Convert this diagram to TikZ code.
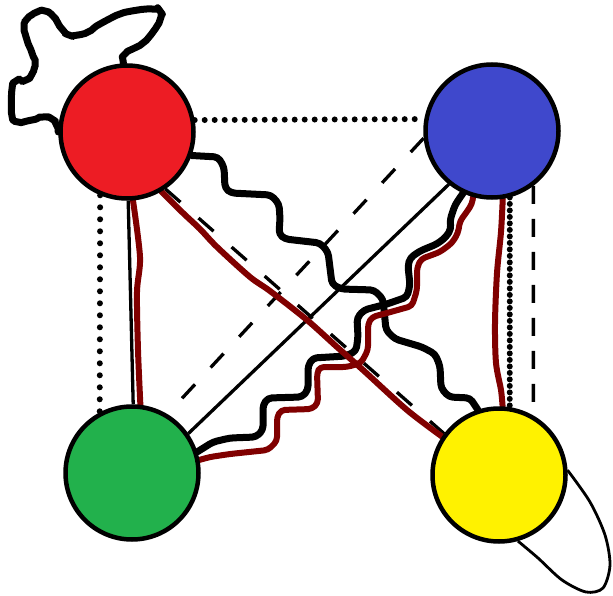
\documentclass[tikz,border=0pt]{standalone}
\usetikzlibrary{backgrounds}
\definecolor{cred}{HTML}{ED1C24}
\definecolor{cblue}{HTML}{3F48CC}
\definecolor{cgreen}{HTML}{22B14C}
\definecolor{cyellow}{HTML}{FFF200}
\definecolor{maroonc}{HTML}{800000}
\begin{document}
\begin{tikzpicture}[x=1pt,y=-1pt,
  vtx/.style={circle,draw=black,line width=4.5pt,minimum size=133pt,inner sep=0pt},
  wig/.style={draw=black,line width=7pt,rounded corners=4pt,line join=round,line cap=round},
  marw/.style={draw=maroonc,line width=6pt,rounded corners=4pt,line join=round,line cap=round},
  mars/.style={draw=maroonc,line width=6pt,line join=round,line cap=round},
  thinline/.style={draw=black,line width=3.3pt},
  dashline/.style={draw=black,line width=3.3pt,dash pattern=on #1},
  dotline/.style={draw=black,line width=6pt,line cap=round,dash pattern=on 0pt off #1},
  loopline/.style={draw=black,line width=2.8pt},
  ]
\useasboundingbox (0,0) rectangle (613,596);
\node[vtx,fill=cred] (R) at (127,132) {};
\node[vtx,fill=cblue] (B) at (492,131) {};
\node[vtx,fill=cgreen] (G) at (132,473) {};
\node[vtx,fill=cyellow] (Y) at (499,475) {};
\begin{pgfonlayer}{background}
% red self loop
\draw[wig] plot[smooth,tension=0.45] coordinates {(R.93) (125,54) (143,43) (153,32) (160,20) (160,11) (152,9) (138,10) (120,14) (100,24) (88,32) (78,35) (69,35) (62,29) (53,16) (45,11) (37,12) (27,19) (24,27) (27,40) (32,53) (35,63) (32,74) (26,80) (16,81) (12,89) (12,116) (18,122) (32,120) (43,117) (52,119) (57,126) (R.180)};
% yellow self loop
\draw[loopline] plot[smooth] coordinates {(Y.4) (590,502) (605,535) (610,565) (603,588) (586,592) (562,580) (538,558) (Y.-74)};
% dotted
\draw[dotline=10pt] (R.10) -- (B.170);
\draw[dotline=12pt] (R.247) -- (G.118);
\draw[dotline=6.5pt] (B.-75) -- (Y.81);
% dashed
\draw[dashline={18pt off 15pt}] (B.-53) -- (Y.60);
\draw[dashline={19pt off 23pt}] (B.186) -- (G.59.5);
\draw[dashline={20pt off 24pt}] (R.-56) -- (Y.143);
% solid thin
\draw[thinline] (R.-89) -- (G.89);
\draw[thinline] (B.231) -- (G.35);
% black wiggles
\draw[wig] (R.-20) -- (218,157) -- (224,167) -- (225,188) -- (231,193) -- (271,195) -- (279,204) -- (280,218) -- (279,234) -- (285,239) -- (320,243) -- (328,252) -- (332,284) -- (341,289) -- (374,290) -- (383,299) -- (386,330) -- (395,339) -- (422,347) -- (435,354) -- (440,366) -- (441,388) -- (449,397) -- (470,398) -- (Y.108);
\draw[wig] (B.245) -- (455,205) -- (450,220) -- (451,229) -- (446,237) -- (437,244) -- (420,251) -- (410,258) -- (408,266) -- (410,285) -- (407,297) -- (387,304) -- (364,310) -- (357,318) -- (358,337) -- (356,351) -- (346,356) -- (313,358) -- (308,366) -- (308,390) -- (302,397) -- (268,398) -- (263,405) -- (263,430) -- (256,437) -- (230,438) -- (213,442) -- (G.18);
% maroon lines
\draw[mars] plot[smooth] coordinates {(R.-85) (140,257) (137,292) (138,350) (G.83)};
\draw[mars] plot[smooth] coordinates {(B.-81) (501,232) (497,273) (495,323) (496,363) (501,390) (Y.87)};
\draw[mars] plot[smooth] coordinates {(R.-60) (183,213) (200,229) (217,247) (250,277) (270,291) (307,320) (337,347) (363,370) (407,410) (Y.146)};
\draw[marw] (B.254) -- (472,204) -- (466,213) -- (460,221) -- (458,233) -- (452,243) -- (440,252) -- (421,259) -- (417,268) -- (417,290) -- (412,306) -- (387,313) -- (372,317) -- (368,324) -- (368,350) -- (361,363) -- (347,367) -- (320,367) -- (317,373) -- (318,403) -- (312,409) -- (281,410) -- (277,417) -- (277,441) -- (268,450) -- (230,454) -- (210,457) -- (G.11);
\end{pgfonlayer}
\end{tikzpicture}
\end{document}
